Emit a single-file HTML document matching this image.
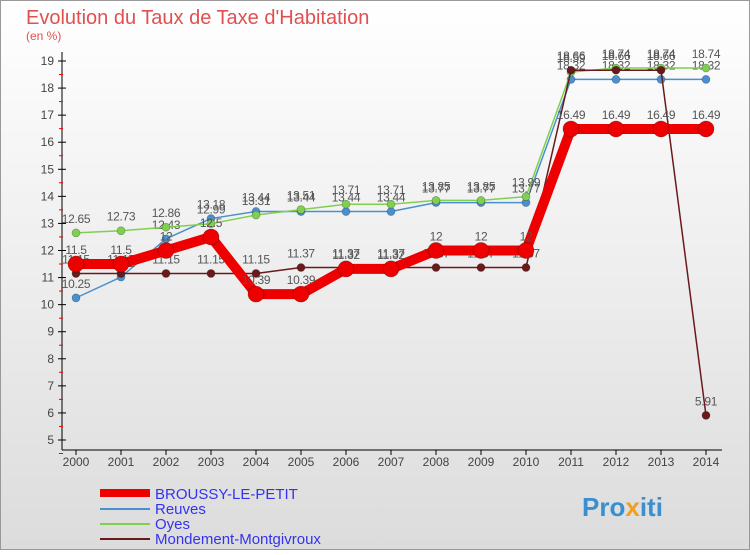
<!DOCTYPE html>
<html><head><meta charset="utf-8"><style>
body{margin:0;width:750px;height:550px;overflow:hidden;font-family:"Liberation Sans",sans-serif}
</style></head><body>
<svg width="750" height="550" xmlns="http://www.w3.org/2000/svg">
<defs><linearGradient id="bg" x1="0" y1="0" x2="0" y2="1"><stop offset="0" stop-color="#ffffff"/><stop offset="1" stop-color="#dcdcdc"/></linearGradient></defs>
<rect x="0.5" y="0.5" width="749" height="549" fill="url(#bg)" stroke="#999"/>
<text x="26" y="24" font-size="20" fill="#e05050">Evolution du Taux de Taxe d'Habitation</text>
<text x="26" y="40" font-size="12" fill="#e05050">(en %)</text>
<g id="axes"></g><g id="series"></g>
<g>
<line x1="100" y1="493" x2="150" y2="493" stroke="#ee0000" stroke-width="8"/>
<text x="155" y="499" font-size="15" fill="#3333ee">BROUSSY-LE-PETIT</text>
<line x1="100" y1="509" x2="150" y2="509" stroke="#4a90d0" stroke-width="2"/>
<text x="155" y="514" font-size="15" fill="#3333ee">Reuves</text>
<line x1="100" y1="524" x2="150" y2="524" stroke="#80d050" stroke-width="2"/>
<text x="155" y="529" font-size="15" fill="#3333ee">Oyes</text>
<line x1="100" y1="539" x2="150" y2="539" stroke="#6a1a1a" stroke-width="2"/>
<text x="155" y="544" font-size="15" fill="#3333ee">Mondement-Montgivroux</text>
</g>
<text x="582" y="516" font-size="26" font-weight="bold" fill="#3a8fd0">Pro<tspan fill="#f0a020">x</tspan>iti</text>
</svg>
<script>
const years=[2000,2001,2002,2003,2004,2005,2006,2007,2008,2009,2010,2011,2012,2013,2014];
const yTicks=[5,6,7,8,9,10,11,12,13,14,15,16,17,18,19];
const broussy=[11.5,11.5,12,12.5,10.39,10.39,11.32,11.32,12,12,12,16.49,16.49,16.49,16.49];
const reuves=[10.25,11.02,12.43,13.18,13.44,13.44,13.44,13.44,13.77,13.77,13.77,18.32,18.32,18.32,18.32];
const oyes=[12.65,12.73,12.86,12.99,13.31,13.51,13.71,13.71,13.85,13.85,13.99,18.59,18.74,18.74,18.74];
const mondement=[11.15,11.15,11.15,11.15,11.15,11.37,11.37,11.37,11.37,11.37,11.37,18.66,18.66,18.66,5.91];
const NS="http://www.w3.org/2000/svg";
const xs=i=>76+i*45, ys=v=>440-(v-5)*(379/14);
function mk(t,a,p){const e=document.createElementNS(NS,t);for(const k in a)e.setAttribute(k,a[k]);p.appendChild(e);return e;}
const ax=document.getElementById('axes'), sg=document.getElementById('series');
const yl=mk('line',{x1:62,y1:52,x2:62,y2:450,stroke:'#000'},ax);


const xl=mk('line',{x1:62,y1:450,x2:722,y2:450,stroke:'#000'},ax);


yTicks.forEach(v=>{
 const y=ys(v);
 mk('line',{x1:58,y1:y,x2:66,y2:y,stroke:'#000'},ax);
 mk('line',{x1:59,y1:y+13.5,x2:63,y2:y+13.5,stroke:'#e00'},ax);
 const t=mk('text',{x:54,y:y+4,'font-size':12,fill:'#444','text-anchor':'end'},ax);t.textContent=v;
 
 
});
years.forEach((yr,i)=>{
 mk('line',{x1:xs(i),y1:450,x2:xs(i),y2:455,stroke:'#000'},ax);
 const t=mk('text',{x:xs(i),y:466,'font-size':12,fill:'#444','text-anchor':'middle'},ax);t.textContent=yr;
 
 
});
function series(d,color,w,r,name){
 const g=mk('g',{},sg);
 
 
 mk('polyline',{points:d.map((v,i)=>xs(i)+','+ys(v)).join(' '),fill:'none',stroke:color,'stroke-width':w,'stroke-linejoin':'round'},g);
 d.forEach((v,i)=>{
  const c=mk('circle',{cx:xs(i),cy:ys(v),r:r,fill:color,stroke:'rgba(0,0,0,0.3)','stroke-width':0.7},g);
  
  
  const t=mk('text',{x:xs(i),y:ys(v)-10,'font-size':12,fill:'#555','text-anchor':'middle','letter-spacing':'-0.3'},g);t.textContent=v;
 });
}
series(reuves,'#4a90d0',1.5,4,'series-reuves');
series(oyes,'#80d050',1.5,4,'series-oyes');
series(mondement,'#6a1a1a',1.5,4,'series-mondement');
series(broussy,'#ee0000',10,8,'series-broussy');
</script>
</body></html>
